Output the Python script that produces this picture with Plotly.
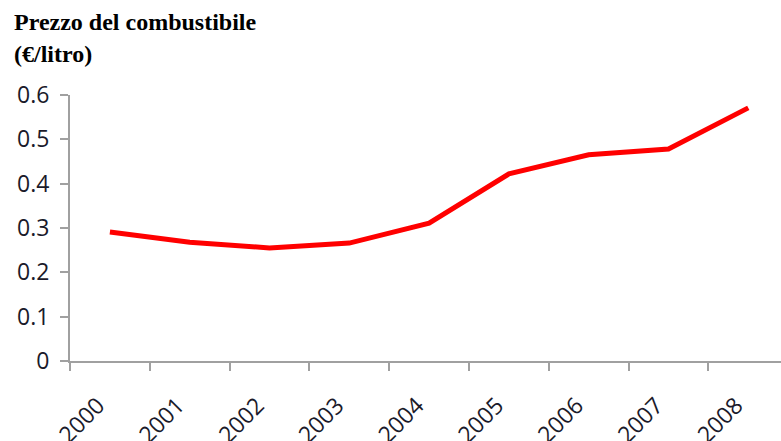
import plotly.graph_objects as go

years = ["2000", "2001", "2002", "2003", "2004", "2005", "2006", "2007", "2008"]
prices = [0.291, 0.268, 0.255, 0.266, 0.311, 0.422, 0.465, 0.478, 0.571]
y_ticks = [0, 0.1, 0.2, 0.3, 0.4, 0.5, 0.6]
y_tick_labels = ["0", "0.1", "0.2", "0.3", "0.4", "0.5", "0.6"]
title_lines = ["Prezzo del combustibile", "(€/litro)"]

fig = go.Figure()
fig.add_trace(go.Scatter(
    x=years, y=prices, mode="lines",
    line=dict(color="#ff0000", width=5),
    showlegend=False, hoverinfo="skip",
))

axis_color = "#a0a0a0"
fig.update_layout(
    width=781, height=441,
    margin=dict(l=70, r=0, t=95, b=80, autoexpand=False),
    plot_bgcolor="white", paper_bgcolor="white",
    xaxis=dict(
        type="category",
        range=[-0.5, 8.41],
        tickson="boundaries",
        ticks="outside", ticklen=8, tickwidth=1.5, tickcolor=axis_color,
        showline=True, linecolor=axis_color, linewidth=2,
        showgrid=False, zeroline=False,
        tickangle=-45,
        ticklabelstandoff=20,
        ticklabelshift=-12,
        automargin=False,
        tickfont=dict(family="Open Sans", size=23, color="#1a1a2a"),
    ),
    yaxis=dict(
        range=[0, 0.6],
        tickvals=y_ticks, ticktext=y_tick_labels,
        ticks="outside", ticklen=8, tickwidth=1.5, tickcolor=axis_color,
        showline=True, linecolor=axis_color, linewidth=2,
        showgrid=False, zeroline=False,
        automargin=False,
        tickfont=dict(family="Open Sans", size=23, color="#1a1a2a"),
        ticklabelstandoff=6,
    ),
)

pw, ph = 711, 266
for i, (txt, py) in enumerate(zip(title_lines, [22, 54])):
    fig.add_annotation(
        text="<b>" + txt + "</b>",
        xref="paper", yref="paper",
        x=(12 - 70) / pw, y=(361 - py) / ph,
        xanchor="left", yanchor="middle",
        showarrow=False,
        font=dict(family="Liberation Serif", size=24, color="black"),
    )

fig.write_html("out.html")
